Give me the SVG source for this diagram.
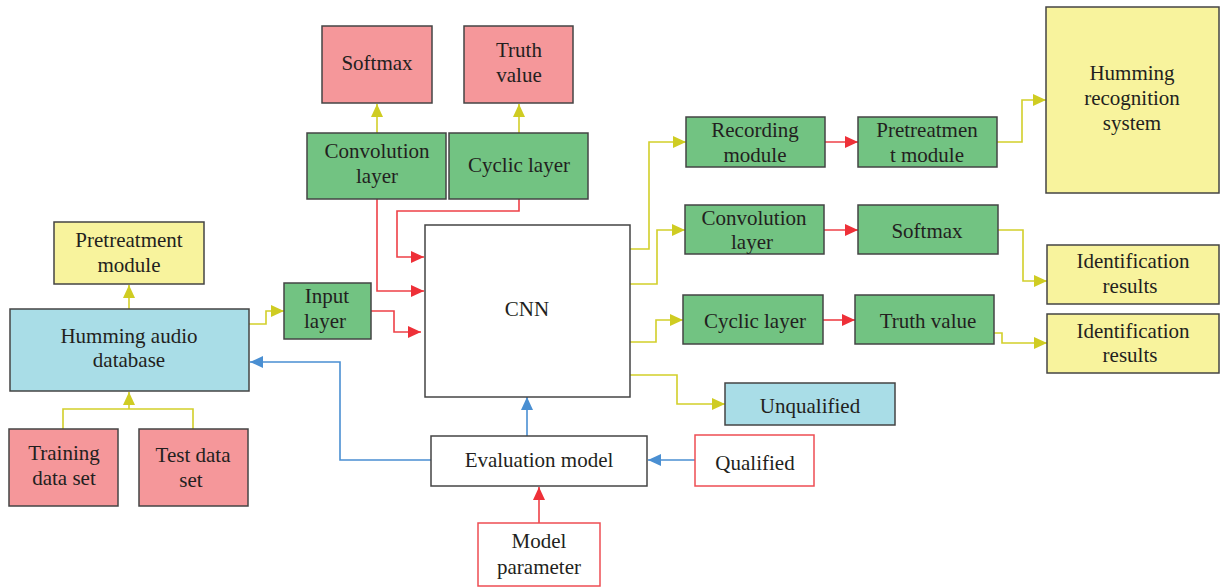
<svg xmlns="http://www.w3.org/2000/svg" width="1220" height="587" viewBox="0 0 1220 587">
<style>
.box{stroke:#444;stroke-width:1.5}
.pink{fill:#f5979a}
.green{fill:#72c382}
.yellow{fill:#f8f39d}
.blue{fill:#a9dde7}
.white{fill:#fff}
.redbox{fill:#fff;stroke:#ee4d53;stroke-width:1.5}
text{font-family:"Liberation Serif","Times New Roman",serif;font-size:21px;fill:#231f20;text-anchor:middle}
.cy{fill:none;stroke:#d2cf2a;stroke-width:1.6}
.cr{fill:none;stroke:#ee4047;stroke-width:1.6}
.cb{fill:none;stroke:#4a8fd2;stroke-width:1.6}
</style>
<defs>
<marker id="ay" markerUnits="userSpaceOnUse" markerWidth="14" markerHeight="12" refX="13" refY="6" orient="auto"><path d="M0,0 L13,6 L0,12 Z" fill="#cfcc22"/></marker>
<marker id="ar" markerUnits="userSpaceOnUse" markerWidth="14" markerHeight="12" refX="13" refY="6" orient="auto"><path d="M0,0 L13,6 L0,12 Z" fill="#ee3038"/></marker>
<marker id="ab" markerUnits="userSpaceOnUse" markerWidth="14" markerHeight="12" refX="13" refY="6" orient="auto"><path d="M0,0 L13,6 L0,12 Z" fill="#4a8fd2"/></marker>
</defs>

<g id="connectors">
<!-- yellow -->
<path class="cy" d="M377,133 V104" marker-end="url(#ay)"/>
<path class="cy" d="M519,133 V104" marker-end="url(#ay)"/>
<path class="cy" d="M129,309 V285" marker-end="url(#ay)"/>
<path class="cy" d="M63,429 V409 H193 V429"/>
<path class="cy" d="M129,409 V392" marker-end="url(#ay)"/>
<path class="cy" d="M249,324 H266 V311 H284" marker-end="url(#ay)"/>
<path class="cy" d="M630,249 H649 V142 H686" marker-end="url(#ay)"/>
<path class="cy" d="M630,284 H657 V230 H685" marker-end="url(#ay)"/>
<path class="cy" d="M630,342 H656 V320 H683" marker-end="url(#ay)"/>
<path class="cy" d="M630,375 H677 V404 H725" marker-end="url(#ay)"/>
<path class="cy" d="M997,142 H1022 V100 H1046" marker-end="url(#ay)"/>
<path class="cy" d="M998,230 H1023 V281 H1047" marker-end="url(#ay)"/>
<path class="cy" d="M994,333 H1002 V343 H1047" marker-end="url(#ay)"/>
<!-- red -->
<path class="cr" d="M377,199 V291 H424" marker-end="url(#ar)"/>
<path class="cr" d="M519,199 V211 H397 V257 H424" marker-end="url(#ar)"/>
<path class="cr" d="M371,311 H394 V332 H421" marker-end="url(#ar)"/>
<path class="cr" d="M825,142 H858" marker-end="url(#ar)"/>
<path class="cr" d="M824,230 H858" marker-end="url(#ar)"/>
<path class="cr" d="M823,320 H855" marker-end="url(#ar)"/>
<path class="cr" d="M539,523 V487" marker-end="url(#ar)"/>
<!-- blue -->
<path class="cb" d="M527,436 V397" marker-end="url(#ab)"/>
<path class="cb" d="M695,460 H648" marker-end="url(#ab)"/>
<path class="cb" d="M431,460 H340 V362 H250" marker-end="url(#ab)"/>
</g>

<g id="softmax-top"><rect class="box pink" x="322" y="26" width="110" height="77"/><text x="377" y="70">Softmax</text></g>
<g id="truth-top"><rect class="box pink" x="464" y="26" width="109" height="77"/><text x="519" y="57">Truth</text><text x="519" y="82">value</text></g>
<g id="conv-top"><rect class="box green" x="307" y="133" width="139" height="66"/><text x="377" y="158">Convolution</text><text x="377" y="183">layer</text></g>
<g id="cyclic-top"><rect class="box green" x="449" y="133" width="139" height="66"/><text x="519" y="172">Cyclic layer</text></g>
<g id="cnn"><rect class="box white" x="425" y="225" width="205" height="172"/><text x="527" y="316">CNN</text></g>
<g id="pretreat-left"><rect class="box yellow" x="54" y="222" width="150" height="62"/><text x="129" y="247">Pretreatment</text><text x="129" y="272">module</text></g>
<g id="humming-db"><rect class="box blue" x="10" y="309" width="239" height="82"/><text x="129" y="343">Humming audio</text><text x="129" y="367">database</text></g>
<g id="input-layer"><rect class="box green" x="284" y="283" width="87" height="56"/><text x="327" y="303">Input</text><text x="325" y="328">layer</text></g>
<g id="training"><rect class="box pink" x="9" y="429" width="109" height="77"/><text x="64" y="460">Training</text><text x="64" y="485">data set</text></g>
<g id="test"><rect class="box pink" x="139" y="429" width="109" height="77"/><text x="193" y="462">Test data</text><text x="191" y="487">set</text></g>
<g id="evaluation"><rect class="box white" x="431" y="436" width="216" height="50"/><text x="539" y="467">Evaluation model</text></g>
<g id="qualified"><rect class="redbox" x="695" y="435" width="119" height="51"/><text x="755" y="470">Qualified</text></g>
<g id="model-param"><rect class="redbox" x="478" y="523" width="122" height="63"/><text x="539" y="548">Model</text><text x="539" y="574">parameter</text></g>
<g id="unqualified"><rect class="box blue" x="725" y="383" width="170" height="42"/><text x="810" y="413">Unqualified</text></g>
<g id="recording"><rect class="box green" x="686" y="117" width="139" height="50"/><text x="755" y="137">Recording</text><text x="755" y="162">module</text></g>
<g id="pretreat-right"><rect class="box green" x="858" y="117" width="139" height="50"/><text x="927" y="137">Pretreatmen</text><text x="927" y="162">t module</text></g>
<g id="conv-right"><rect class="box green" x="685" y="205" width="139" height="49"/><text x="754" y="225">Convolution</text><text x="752" y="249">layer</text></g>
<g id="softmax-right"><rect class="box green" x="858" y="205" width="140" height="49"/><text x="927" y="238">Softmax</text></g>
<g id="cyclic-right"><rect class="box green" x="683" y="295" width="140" height="49"/><text x="755" y="328">Cyclic layer</text></g>
<g id="truth-right"><rect class="box green" x="855" y="295" width="139" height="49"/><text x="928" y="328">Truth value</text></g>
<g id="humming-rec"><rect class="box yellow" x="1046" y="7" width="173" height="186"/><text x="1132" y="80">Humming</text><text x="1132" y="105">recognition</text><text x="1132" y="130">system</text></g>
<g id="ident1"><rect class="box yellow" x="1047" y="245" width="172" height="59"/><text x="1133" y="268">Identification</text><text x="1130" y="293">results</text></g>
<g id="ident2"><rect class="box yellow" x="1047" y="314" width="172" height="59"/><text x="1133" y="338">Identification</text><text x="1130" y="362">results</text></g>
</svg>
